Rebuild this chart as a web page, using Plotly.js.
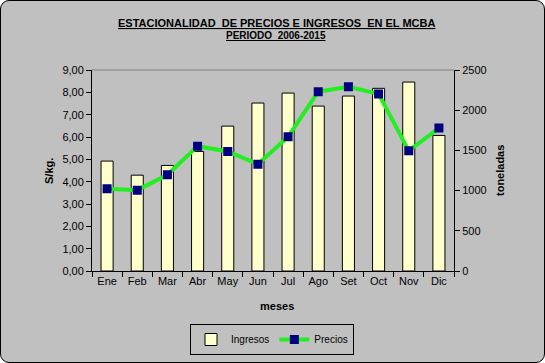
<!DOCTYPE html>
<html><head><meta charset="utf-8">
<script src="https://cdn.plot.ly/plotly-3.0.1.min.js"></script>
<style>
html,body{margin:0;padding:0;background:#fff;}
#wrap{position:absolute;left:0;top:0;width:543px;height:361px;border:1px solid #000;border-radius:9px;background:#c0c0c0;overflow:hidden;}
#chart{width:543px;height:361px;}
</style></head>
<body><div id="wrap"><div id="chart"></div></div>
<script>
const months = ["Ene","Feb","Mar","Abr","May","Jun","Jul","Ago","Set","Oct","Nov","Dic"];
const ingresos = [1367,1192,1313,1487,1802,2089,2213,2051,2176,2272,2350,1686];
const precios = [3.68,3.62,4.31,5.59,5.35,4.78,6.01,8.03,8.25,7.93,5.38,6.40];

const fnt = "Liberation Sans, Arial, sans-serif";
const W = 543, H = 361, L = 91, R = 453, T = 69, B = 270;
const px = x => (x - L) / (R - L);
const py = y => (B - y) / (B - T);

const traces = [
  {type:"bar", name:"Ingresos", x:months, y:ingresos, yaxis:"y", width:0.4,
   marker:{color:"#ffffcc", line:{color:"#000", width:1}}},
  {type:"scatter", mode:"lines+markers", name:"Precios", x:months, y:precios, yaxis:"y2",
   line:{color:"#22ee22", width:4}, marker:{symbol:"square", color:"#000080", size:9}}
];

const layout = {
  width:W, height:H, paper_bgcolor:"rgba(0,0,0,0)", plot_bgcolor:"#c0c0c0",
  margin:{l:L, r:W-R, t:T, b:H-B, pad:0},
  separators:",.",
  font:{family:fnt, size:11, color:"#000"},
  showlegend:true,
  xaxis:{type:"category", range:[-0.5, months.length - 0.5], tickson:"boundaries", ticks:"outside", ticklen:5, tickcolor:"#000",
    tickangle:0, automargin:false,
    showline:true, linecolor:"#000", linewidth:1, showgrid:false, zeroline:false,
    tickfont:{size:11}},
  yaxis:{side:"right", range:[0,2500], dtick:500, ticks:"outside", ticklen:5, tickcolor:"#000",
    automargin:false,
    showline:true, linecolor:"#000", showgrid:false, zeroline:false, tickfont:{size:11}},
  yaxis2:{overlaying:"y", side:"left", range:[0,9], dtick:1, tickformat:".2f", ticks:"outside",
    automargin:false,
    ticklen:5, tickcolor:"#000", showline:true, linecolor:"#000", showgrid:false, zeroline:false,
    tickfont:{size:11}},
  legend:{orientation:"h", x:px(271), xanchor:"center", yref:"container", y:1-323/H, yanchor:"top",
    bgcolor:"#c0c0c0", bordercolor:"#000", borderwidth:1, font:{size:10}, itemwidth:30},
  shapes:[{type:"line", xref:"paper", yref:"paper", x0:0, x1:1, y0:1, y1:1, line:{color:"#808080", width:1}}],
  annotations:[
    {xref:"paper", yref:"paper", x:px(275), y:py(22), text:"<b><u>ESTACIONALIDAD  DE PRECIOS E INGRESOS  EN EL MCBA</u></b>",
     showarrow:false, font:{size:11}, xanchor:"center", yanchor:"middle"},
    {xref:"paper", yref:"paper", x:px(275), y:py(34), text:"<b><u>PERIODO  2006-2015</u></b>",
     showarrow:false, font:{size:10}, xanchor:"center", yanchor:"middle"},
    {xref:"paper", yref:"paper", x:px(48), y:py(170), text:"<b>S/kg.</b>", textangle:-90,
     showarrow:false, font:{size:11}, xanchor:"center", yanchor:"middle"},
    {xref:"paper", yref:"paper", x:px(499), y:py(170), text:"<b>toneladas</b>", textangle:-90,
     showarrow:false, font:{size:11}, xanchor:"center", yanchor:"middle"},
    {xref:"paper", yref:"paper", x:px(276), y:py(305), text:"<b>meses</b>",
     showarrow:false, font:{size:11}, xanchor:"center", yanchor:"middle"}
  ]
};
Plotly.newPlot("chart", traces, layout, {displayModeBar:false, staticPlot:true});
</script></body></html>
